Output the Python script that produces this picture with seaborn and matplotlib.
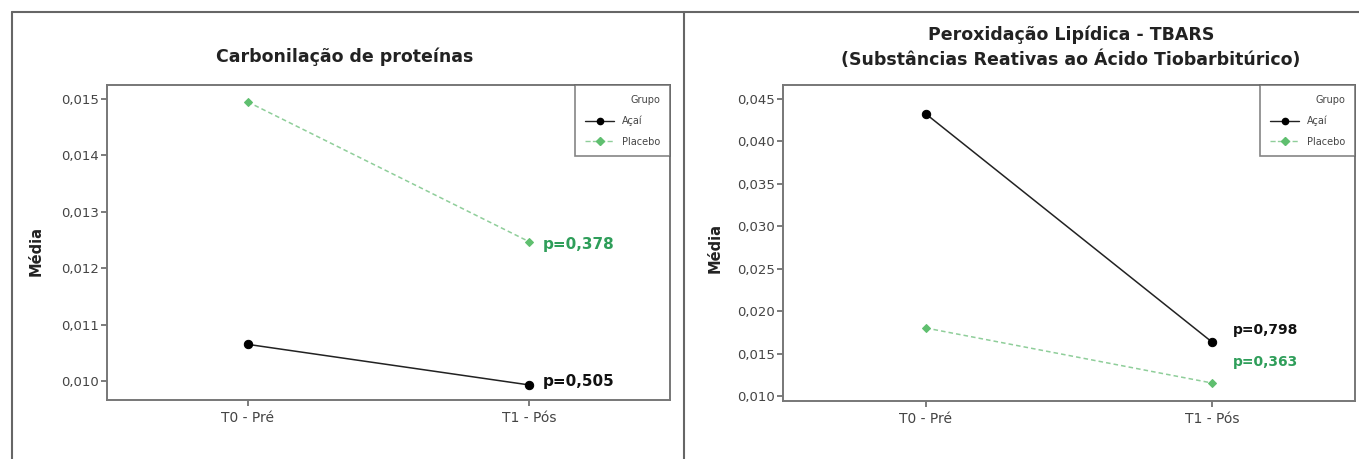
import matplotlib.pyplot as plt
import pandas as pd
import seaborn as sns
from matplotlib.lines import Line2D
from matplotlib.ticker import FuncFormatter

tempos = ["T0 - Pré", "T1 - Pós"]
grupos = ["Açaí", "Placebo"]

# médias
carbonil_acai = [0.01065, 0.00993]
carbonil_placebo = [0.01495, 0.01247]
tbars_acai = [0.04323, 0.01636]
tbars_placebo = [0.01801, 0.01153]

carbonil_ticks = [0.010, 0.011, 0.012, 0.013, 0.014, 0.015]
tbars_ticks = [0.010, 0.015, 0.020, 0.025, 0.030, 0.035, 0.040, 0.045]

p_carbonil = {"Açaí": "p=0,505", "Placebo": "p=0,378"}
p_tbars = {"Açaí": "p=0,798", "Placebo": "p=0,363"}

titulo_carbonil = "Carbonilação de proteínas"
titulo_tbars = ["Peroxidação Lipídica - TBARS",
                "(Substâncias Reativas ao Ácido Tiobarbitúrico)"]

palette = {"Açaí": "#222222", "Placebo": "#8fce9a"}
marker_colors = {"Açaí": "#000000", "Placebo": "#5fbf6f"}
p_colors = {"Açaí": "#111111", "Placebo": "#2f9e5a"}
markers = {"Açaí": "o", "Placebo": "D"}
dashes = {"Açaí": "", "Placebo": (3, 2)}

W, H = 1359, 459


def make_df(acai, placebo):
    return pd.DataFrame({
        "Tempo": tempos * 2,
        "Grupo": ["Açaí"] * 2 + ["Placebo"] * 2,
        "Média": acai + placebo,
    })


def draw_panel(ax, df, ticks, ylim, pvals, p_offsets, p_size):
    sns.lineplot(data=df, x="Tempo", y="Média", hue="Grupo", style="Grupo",
                 palette=palette, markers=markers, dashes=dashes,
                 markersize=6, linewidth=1.1, legend=False, ax=ax)
    for line, g in zip(ax.get_lines(), grupos):
        line.set_markerfacecolor(marker_colors[g])
        line.set_markeredgecolor(marker_colors[g])
        if g == "Placebo":
            line.set_markersize(4.5)
    ax.set_xlim(-0.5, 1.5)
    ax.set_ylim(*ylim)
    ax.set_yticks(ticks)
    ax.yaxis.set_major_formatter(FuncFormatter(lambda v, _: f"{v:.3f}".replace(".", ",")))
    ax.set_xlabel("")
    ax.set_ylabel("Média", fontsize=10.5, fontweight="bold", color="#222222")
    ax.tick_params(axis="both", which="major", direction="out", length=4,
                   width=1.2, left=True, bottom=True, color="#666666",
                   labelcolor="#444444", pad=2)
    ax.tick_params(axis="y", labelsize=9.5)
    ax.tick_params(axis="x", labelsize=10, pad=4)
    for s in ax.spines.values():
        s.set_visible(True)
        s.set_color("#777777")
        s.set_linewidth(1.4)

    # p-valores ao lado do ponto final
    for g in grupos:
        yv = df[(df["Grupo"] == g) & (df["Tempo"] == tempos[1])]["Média"].iloc[0]
        ax.annotate(pvals[g], xy=(1, yv), xytext=p_offsets[g],
                    textcoords="offset pixels", fontsize=p_size,
                    fontweight="bold", color=p_colors[g], va="center",
                    ha="left")

    handles = [Line2D([], [], color=palette[g], marker=markers[g],
                      markerfacecolor=marker_colors[g],
                      markeredgecolor=marker_colors[g],
                      markersize=4.5 if g == "Açaí" else 4,
                      linestyle="-" if g == "Açaí" else "--", linewidth=1)
               for g in grupos]
    leg = ax.legend(handles, grupos, title="Grupo", loc="upper right",
                    bbox_to_anchor=(1.0, 1.0), fontsize=7, title_fontsize=7,
                    frameon=True, fancybox=False, borderpad=1.0,
                    handlelength=3.0, labelspacing=1.1, borderaxespad=0)
    leg.get_frame().set_edgecolor("#666666")
    leg.get_frame().set_linewidth(1.2)
    leg._legend_box.align = "right"
    for t in leg.get_texts():
        t.set_color("#444444")
    leg.get_title().set_color("#444444")


sns.set_theme(style="white")
plt.rcParams["font.family"] = ["DejaVu Sans"]

fig = plt.figure(figsize=(W / 100, H / 100), dpi=100)
ax1 = fig.add_axes([107 / W, 1 - 400 / H, 563 / W, 315 / H])
ax2 = fig.add_axes([783 / W, 1 - 401 / H, 572 / W, 316 / H])

draw_panel(ax1, make_df(carbonil_acai, carbonil_placebo), carbonil_ticks,
           (0.009663, 0.01525), p_carbonil,
           {"Açaí": (14, 3), "Placebo": (14, -3)}, 11)
draw_panel(ax2, make_df(tbars_acai, tbars_placebo), tbars_ticks,
           (0.00941, 0.04665), p_tbars,
           {"Açaí": (21, 12), "Placebo": (21, 21)}, 10)

ax1.yaxis.set_label_coords(-0.112, 0.473)
ax2.yaxis.set_label_coords(-0.105, 0.484)

title_kw = dict(ha="center", va="center", fontsize=12.5, fontweight="bold",
                color="#222222")
fig.text(345 / W, 1 - 57 / H, titulo_carbonil, **title_kw)
fig.text(1071 / W, 1 - 35 / H, titulo_tbars[0], **title_kw)
fig.text(1071 / W, 1 - 60 / H, titulo_tbars[1], **title_kw)

# molduras dos painéis
frame_kw = dict(transform=fig.transFigure, color="#666666", linewidth=1.5)
fig.add_artist(Line2D([12 / W, 12 / W], [0, 1 - 12 / H], **frame_kw))
fig.add_artist(Line2D([12 / W, 1], [1 - 12 / H, 1 - 12 / H], **frame_kw))
fig.add_artist(Line2D([684 / W, 684 / W], [0, 1 - 12 / H], **frame_kw))

fig.savefig("out.png", dpi=100)
